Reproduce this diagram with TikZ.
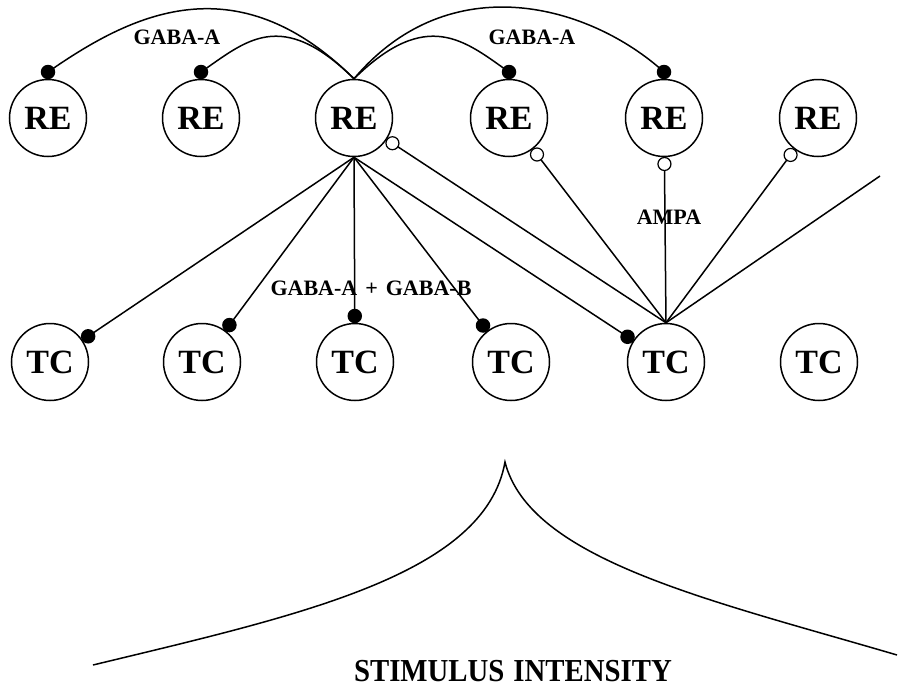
\documentclass[tikz,border=0pt]{standalone}
\usepackage{fontspec}
\setmainfont{Liberation Serif}
\usetikzlibrary{calc}
\begin{document}
\begin{tikzpicture}[x=1pt,y=-1pt,line width=1.5pt,
  neuron/.style={circle,draw,minimum size=77pt,inner sep=0pt,font=\fontsize{34}{34}\selectfont\bfseries},
  lbl/.style={inner sep=0pt,font=\fontsize{22}{22}\selectfont\bfseries},
  syn/.style={circle,fill=black,draw=none,minimum size=14.5pt,inner sep=0pt},
  ampa/.style={circle,fill=white,draw,minimum size=13pt,inner sep=0pt,line width=1.2pt},
  conn/.style={line width=1.5pt}]
\useasboundingbox (0,0) rectangle (898,691);

% RE row
\node[neuron] (re1) at (48,118) {RE};
\node[neuron] (re2) at (201,118) {RE};
\node[neuron] (re3) at (354,118) {RE};
\node[neuron] (re4) at (509,118) {RE};
\node[neuron] (re5) at (664,118) {RE};
\node[neuron] (re6) at (818,118) {RE};
% TC row
\node[neuron] (tc1) at (50,362) {TC};
\node[neuron] (tc2) at (202,362) {TC};
\node[neuron] (tc3) at (355,362) {TC};
\node[neuron] (tc4) at (511,362) {TC};
\node[neuron] (tc5) at (666,362) {TC};
\node[neuron] (tc6) at (819,362) {TC};

% labels
\node[lbl] (l1) at (177,37) {GABA-A};
\node[lbl] (l2) at (532,37) {GABA-A};
\node[lbl] (l3) at (371,288) {GABA-A\hspace{8pt}+\hspace{8pt}GABA-B};
\node[lbl] (l4) at (669,217) {AMPA};

% synapse positions
\coordinate (s1) at ($(re1)!46pt!(re1.north)$);
\coordinate (s2) at ($(re2)!46pt!(re2.north)$);
\coordinate (s4) at ($(re4)!46pt!(re4.north)$);
\coordinate (s5) at ($(re5)!46pt!(re5.north)$);
\coordinate (t1) at ($(tc1)!46pt!(re3.south)$);
\coordinate (t2) at ($(tc2)!46pt!(re3.south)$);
\coordinate (t3) at ($(tc3)!46pt!(re3.south)$);
\coordinate (t4) at ($(tc4)!46pt!(re3.south)$);
\coordinate (t5) at ($(tc5)!46pt!(re3.south)$);
\coordinate (a3) at ($(re3)!46pt!(tc5.north)$);
\coordinate (a4) at ($(re4)!46pt!(tc5.north)$);
\coordinate (a5) at ($(re5)!46pt!(tc5.north)$);
\coordinate (a6) at ($(re6)!46pt!(tc5.north)$);
\coordinate (free) at (880,176);

% RE -> RE arcs (GABA-A)
\draw[conn] (re3.north) .. controls (235,-39) and (130,15) .. (s1);
\draw[conn] (re3.north) .. controls (281,7) and (246,41) .. (s2);
\draw[conn] (re3.north) .. controls (427,7) and (465,41) .. (s4);
\draw[conn] (re3.north) .. controls (450,-35) and (590,5) .. (s5);

% RE -> TC
\foreach \t in {t1,t2,t3,t4,t5} \draw[conn] (re3.south) -- (\t);

% TC -> RE (AMPA)
\foreach \a in {a3,a4,a5,a6} \draw[conn] (tc5.north) -- (\a);
\draw[conn] (tc5.north) -- (free);

% synapse markers
\foreach \s in {s1,s2,s4,s5,t1,t2,t3,t4,t5} \node[syn] (n\s) at (\s) {};
\foreach \a in {a3,a4,a5,a6} \node[ampa] (n\a) at (\a) {};

% stimulus profile
\coordinate (lend) at (93,665);
\coordinate (peak) at (505,462);
\coordinate (rend) at (897,655);
\draw[conn] (lend) .. controls (300,615) and (485,575) .. (peak)
            .. controls (530,560) and (710,600) .. (rend);
\node[inner sep=0pt,font=\fontsize{32}{32}\selectfont\bfseries] (stim) at (513,671)
  {\scalebox{0.9}[1]{STIMULUS\hspace{10pt}INTENSITY}};
\end{tikzpicture}
\end{document}
